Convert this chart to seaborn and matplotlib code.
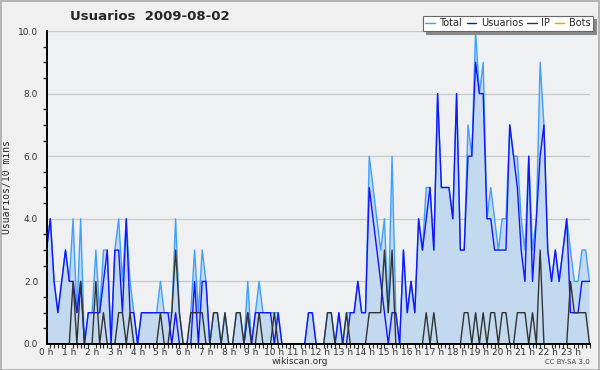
import numpy as np
import pandas as pd
import matplotlib
matplotlib.use("Agg")
import matplotlib.pyplot as plt
import seaborn as sns
from matplotlib.ticker import MultipleLocator, FixedLocator

# --- datos: un valor cada 10 minutos (144 por dia) ---
usuarios = [
    3, 4, 2, 1, 2, 3, 2, 2, 1, 2, 0, 1, 1, 1, 1, 2, 3, 0, 3, 3, 1, 4, 1, 1,
    0, 1, 1, 1, 1, 1, 1, 1, 1, 0, 1, 0, 0, 0, 0, 2, 0, 2, 2, 0, 0, 0, 0, 0,
    0, 0, 0, 0, 0, 1, 0, 1, 1, 1, 1, 1, 0, 1, 0, 0, 0, 0, 0, 0, 0, 1, 1, 0,
    0, 0, 0, 0, 0, 1, 0, 0, 1, 1, 2, 1, 1, 5, 4, 3, 2, 1, 0, 1, 1, 0, 3, 1,
    2, 1, 4, 3, 4, 5, 3, 8, 5, 5, 5, 4, 8, 3, 3, 6, 6, 9, 8, 8, 4, 4, 3, 3,
    3, 3, 7, 6, 5, 3, 2, 6, 2, 4, 6, 7, 3, 2, 3, 2, 3, 4, 1, 1, 1, 2, 2, 2,
]
ip = [
    0, 0, 0, 0, 0, 0, 0, 2, 0, 2, 0, 0, 0, 2, 0, 1, 0, 0, 0, 1, 1, 0, 1, 0,
    0, 0, 0, 0, 0, 0, 1, 0, 0, 1, 3, 1, 0, 0, 1, 1, 1, 1, 0, 0, 1, 1, 0, 1,
    0, 0, 1, 1, 0, 1, 0, 0, 1, 0, 0, 0, 1, 0, 0, 0, 0, 0, 0, 0, 0, 0, 0, 0,
    0, 0, 1, 1, 0, 0, 0, 1, 0, 0, 0, 0, 0, 1, 1, 1, 1, 3, 1, 3, 0, 0, 0, 0,
    0, 0, 0, 0, 1, 0, 1, 0, 0, 0, 0, 0, 0, 0, 1, 1, 0, 1, 0, 1, 0, 1, 1, 0,
    1, 1, 0, 0, 1, 1, 1, 0, 1, 0, 3, 0, 0, 0, 0, 0, 0, 0, 2, 1, 1, 1, 1, 0,
]
total = [
    3, 4, 2, 1, 2, 3, 2, 4, 1, 4, 0, 1, 1, 3, 1, 3, 3, 0, 3, 4, 2, 4, 2, 1,
    0, 1, 1, 1, 1, 1, 2, 1, 1, 1, 4, 1, 0, 0, 1, 3, 1, 3, 2, 0, 1, 1, 0, 1,
    0, 0, 1, 1, 0, 2, 0, 1, 2, 1, 1, 1, 1, 1, 0, 0, 0, 0, 0, 0, 0, 1, 1, 0,
    0, 0, 1, 1, 0, 1, 0, 1, 1, 1, 2, 1, 1, 6, 5, 4, 3, 4, 1, 6, 1, 0, 3, 1,
    2, 1, 4, 3, 5, 5, 3, 8, 5, 5, 5, 4, 8, 3, 3, 7, 6, 10, 8, 9, 4, 5, 4, 3,
    4, 4, 7, 6, 6, 4, 3, 6, 3, 4, 9, 7, 3, 2, 3, 2, 3, 4, 3, 2, 2, 3, 3, 2,
]
bots = [0] * 144
hour_labels = [f"{h} h" for h in range(24)]

df = pd.DataFrame({
    "hora": np.arange(len(total)) / 6,
    "Total": total,
    "Usuarios": usuarios,
    "IP": ip,
    "Bots": bots,
})

sns.set_style("white")
plt.rcParams["font.family"] = ["DejaVu Sans"]

fig = plt.figure(figsize=(6, 3.7), dpi=100, facecolor="#f0f0f0")
ax = fig.add_axes([0.0775, 0.0703, 0.905, 0.8459])
ax.set_facecolor("#eef0f2")

# borde exterior
fig.patches.append(plt.Rectangle((0.001, 0.001), 0.997, 0.997, transform=fig.transFigure,
                                 fill=False, edgecolor="#aaaaaa", linewidth=1.2))

# relleno bajo Total
ax.fill_between(df["hora"].to_numpy(), 0, df["Total"].to_numpy(dtype=float),
                facecolor="#c2d9ef", edgecolor="none", zorder=1.5)
sns.lineplot(data=df, x="hora", y="Bots", ax=ax, color="#ff9900", lw=1.0, label="Bots", zorder=1)
sns.lineplot(data=df, x="hora", y="Total", ax=ax, color="#3fa0ff", lw=1.0, label="Total", zorder=3)
sns.lineplot(data=df, x="hora", y="Usuarios", ax=ax, color="#1414ff", lw=1.0, label="Usuarios", zorder=4)
sns.lineplot(data=df, x="hora", y="IP", ax=ax, color="#333333", lw=1.0, label="IP", zorder=5)

ax.set_xlim(0, df["hora"].iloc[-1])
ax.set_ylim(0, 10)

ax.yaxis.set_major_locator(MultipleLocator(2))
ax.yaxis.set_minor_locator(MultipleLocator(0.5))
ax.set_yticklabels([f"{v:.1f}" for v in ax.get_yticks()])
ax.xaxis.set_major_locator(FixedLocator(range(24)))
ax.xaxis.set_minor_locator(FixedLocator(df["hora"]))
ax.set_xticklabels(hour_labels)

ax.tick_params(axis="y", which="major", length=5, width=1, labelsize=6.5, pad=1, colors="#333333")
ax.tick_params(axis="y", which="minor", length=3, width=1, left=True)
ax.tick_params(axis="x", which="major", length=3, width=1, labelsize=6.5, pad=0, colors="#333333")
ax.tick_params(axis="x", which="minor", length=3, width=0.8, bottom=True)

ax.grid(axis="y", which="major", color="#c8c8c8", lw=0.9, zorder=0)
ax.set_axisbelow(True)
for s in ["top", "right"]:
    ax.spines[s].set_visible(False)
for s in ["left", "bottom"]:
    ax.spines[s].set_color("black")
    ax.spines[s].set_linewidth(1.4)
    ax.spines[s].set_zorder(6)

ax.set_xlabel("")
ax.set_ylabel("Usuarios/10 mins", fontsize=7, family="DejaVu Sans Mono", labelpad=4)

fig.text(0.25, 0.955, "Usuarios  2009-08-02", fontsize=9.5, fontweight="bold",
         ha="center", va="center")
fig.text(0.5, 0.024, "wikiscan.org", fontsize=6.5, color="#333333", ha="center", va="center")
fig.text(0.983, 0.022, "CC BY-SA 3.0", fontsize=5, color="#444444", ha="right", va="center")

handles, labels = ax.get_legend_handles_labels()
order = ["Total", "Usuarios", "IP", "Bots"]
hmap = dict(zip(labels, handles))
leg = ax.legend([hmap[k] for k in order], order, loc="upper right",
                bbox_to_anchor=(1.006, 1.048), ncol=4, fontsize=7,
                frameon=True, fancybox=False, shadow={"color": "#888888", "alpha": 1},
                handlelength=1.0, handletextpad=0.45, columnspacing=0.45,
                borderpad=0.25, borderaxespad=0)
leg.get_frame().set_edgecolor("#666666")
leg.get_frame().set_facecolor("white")
leg.get_frame().set_linewidth(0.8)

fig.savefig("out.png", dpi=100, facecolor=fig.get_facecolor())
